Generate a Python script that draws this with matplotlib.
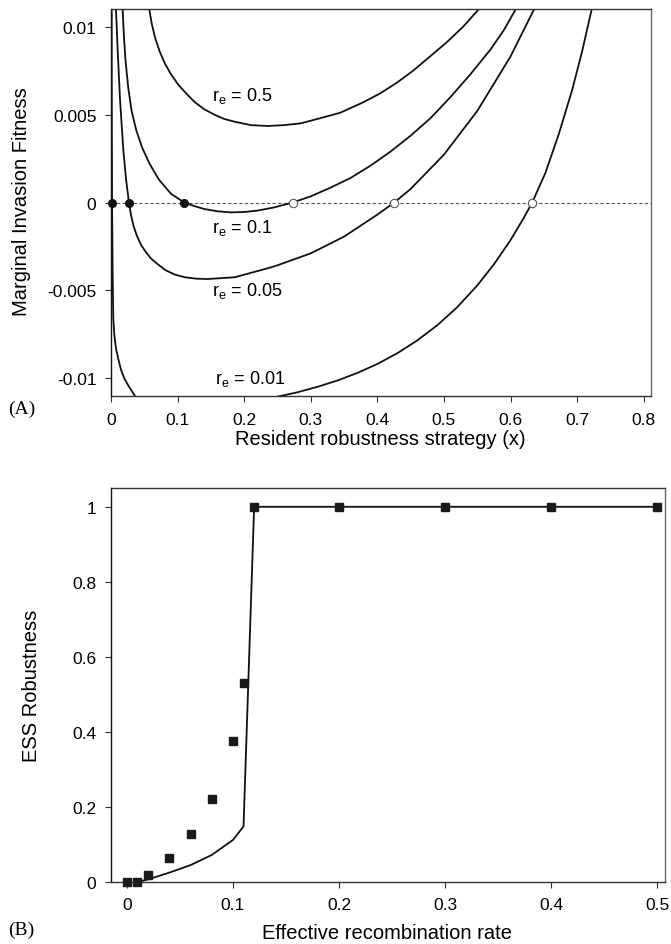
import matplotlib
matplotlib.use("Agg")
import matplotlib.pyplot as plt

plt.rcParams['font.family'] = ['Liberation Sans', 'DejaVu Sans']
plt.rcParams['mathtext.fontset'] = 'custom'
plt.rcParams['mathtext.rm'] = 'Liberation Sans'

# ---- panel A: marginal invasion fitness curves ----
x_r001_left = [0.0010, 0.0012, 0.0016, 0.0025, 0.0035, 0.005, 0.0075, 0.011, 0.015, 0.020, 0.026, 0.036]
y_r001_left = [0.0110, 0.0050, 0.0, -0.0040, -0.0066, -0.0075, -0.0083, -0.0089, -0.0095, -0.0100,
               -0.0104, -0.0110]
x_r001_right = [0.251, 0.28, 0.31, 0.34, 0.37, 0.40, 0.43, 0.46, 0.49, 0.52, 0.55, 0.575,
                0.60, 0.62, 0.6326, 0.6526, 0.6726, 0.6926, 0.7076, 0.722]
y_r001_right = [-0.01103, -0.01079, -0.01048, -0.01012, -0.00969, -0.00918, -0.00857, -0.00784,
                -0.00698, -0.00595, -0.00472, -0.00352, -0.00214, -0.00087, 0.0, 0.0017, 0.0039,
                0.0064, 0.0086, 0.0110]

x_r005 = [0.0075, 0.010, 0.0135, 0.0185, 0.0227, 0.027, 0.030, 0.034, 0.039, 0.045, 0.052, 0.06,
          0.07, 0.082, 0.096, 0.111, 0.128, 0.145, 0.186, 0.239, 0.25, 0.30, 0.35, 0.40, 0.4254,
          0.45, 0.50, 0.55, 0.60, 0.6356]
y_r005 = [0.0110, 0.0087, 0.0059, 0.0030, 0.0013, 0.0, -0.0007, -0.00135, -0.0019, -0.0024,
          -0.0028, -0.00318, -0.0035, -0.00385, -0.0041, -0.00425, -0.00433, -0.00435, -0.00425,
          -0.00370, -0.00357, -0.00289, -0.00194, -0.00069, 0.0, 0.00077, 0.00272, 0.0052,
          0.0083, 0.0110]

x_r01 = [0.0175, 0.0195, 0.022, 0.026, 0.031, 0.038, 0.047, 0.058, 0.072, 0.09, 0.11, 0.125,
         0.14, 0.16, 0.18, 0.20, 0.22, 0.245, 0.2728, 0.30, 0.33, 0.36, 0.39, 0.42, 0.45, 0.48,
         0.51, 0.54, 0.57, 0.59, 0.608]
y_r01 = [0.0110, 0.0094, 0.0080, 0.0065, 0.0052, 0.0041, 0.0031, 0.0022, 0.0013, 0.0005, 0.0,
         -0.0002, -0.00037, -0.0005, -0.00056, -0.00054, -0.00046, -0.00028, 0.0, 0.00035,
         0.00085, 0.0014, 0.0021, 0.0029, 0.0038, 0.0048, 0.0060, 0.0073, 0.0087, 0.0098, 0.0110]

x_r05 = [0.0575, 0.061, 0.066, 0.073, 0.081, 0.09, 0.101, 0.113, 0.126, 0.14, 0.155, 0.17, 0.185,
         0.21, 0.235, 0.26, 0.285, 0.315, 0.344, 0.379, 0.404, 0.429, 0.454, 0.479, 0.504, 0.529,
         0.5526]
y_r05 = [0.0110, 0.0102, 0.0094, 0.0086, 0.0079, 0.0073, 0.0067, 0.0062, 0.0057, 0.0053, 0.0050,
         0.00475, 0.0046, 0.0044, 0.00435, 0.0044, 0.0045, 0.0048, 0.0051, 0.0057, 0.0062, 0.0068,
         0.0075, 0.0083, 0.0091, 0.0100, 0.0110]

stable_x = [0.0015, 0.0275, 0.11]      # filled dots
unstable_x = [0.2728, 0.4254, 0.6326]  # open dots

curve_labels = [r'r$_\mathrm{e}$ = 0.5', r'r$_\mathrm{e}$ = 0.1', r'r$_\mathrm{e}$ = 0.05', r'r$_\mathrm{e}$ = 0.01']
label_x = [0.151, 0.151, 0.151, 0.156]
label_y = [0.0061, -0.0014, -0.0050, -0.0100]

xticks_a = [0, 0.1, 0.2, 0.3, 0.4, 0.5, 0.6, 0.7, 0.8]
xticklabels_a = ['0', '0.1', '0.2', '0.3', '0.4', '0.5', '0.6', '0.7', '0.8']
yticks_a = [0.01, 0.005, 0, -0.005, -0.01]
yticklabels_a = ['0.01', '0.005', '0', '-0.005', '-0.01']

# ---- panel B: ESS robustness vs recombination ----
sim_r = [0, 0.01, 0.02, 0.04, 0.06, 0.08, 0.1, 0.11, 0.12, 0.2, 0.3, 0.4, 0.5]
sim_ess = [0, 0, 0.02, 0.064, 0.128, 0.221, 0.376, 0.53, 1, 1, 1, 1, 1]
theory_r = [0.01, 0.02, 0.04, 0.06, 0.08, 0.1, 0.11, 0.12, 0.2, 0.3, 0.4, 0.5]
theory_ess = [0, 0.007, 0.025, 0.045, 0.072, 0.112, 0.148, 1, 1, 1, 1, 1]

xticks_b = [0, 0.1, 0.2, 0.3, 0.4, 0.5]
xticklabels_b = ['0', '0.1', '0.2', '0.3', '0.4', '0.5']
yticks_b = [0, 0.2, 0.4, 0.6, 0.8, 1]
yticklabels_b = ['0', '0.2', '0.4', '0.6', '0.8', '1']

fig = plt.figure(figsize=(6.71, 9.45), dpi=100)
axA = fig.add_axes([0.1654, 0.5799, 0.8048, 0.4095])
axB = fig.add_axes([0.1654, 0.0656, 0.8257, 0.4169])

lw = 1.3
axA.axhline(0, color='#555555', lw=0.8, ls=(0, (3, 2)), zorder=1)
for xs, ys in [(x_r001_left, y_r001_left), (x_r001_right, y_r001_right),
               (x_r005, y_r005), (x_r01, y_r01), (x_r05, y_r05)]:
    axA.plot(xs, ys, color='#111111', lw=lw, zorder=2)
axA.plot(stable_x, [0] * len(stable_x), 'o', ms=5.5, color='#111111', zorder=3, clip_on=False)
axA.plot(unstable_x, [0] * len(unstable_x), 'o', ms=6, mfc='white', mec='#555555', mew=0.8, zorder=3)
for t, lx, ly in zip(curve_labels, label_x, label_y):
    axA.text(lx, ly, t, fontsize=13, va='center', ha='left')

axA.set_xlim(0, 0.811)
axA.set_ylim(-0.011, 0.011)
axA.set_xticks(xticks_a, xticklabels_a)
axA.set_yticks(yticks_a, yticklabels_a)
axA.set_xlabel('Resident robustness strategy (x)', fontsize=14.5)
axA.set_ylabel('Marginal Invasion Fitness', fontsize=14.5)
axA.xaxis.set_label_coords(0.498, -0.086)
axA.yaxis.set_label_coords(-0.148, 0.505)

axB.plot(theory_r, theory_ess, color='#111111', lw=lw, zorder=2)
axB.plot(sim_r, sim_ess, 's', ms=6.2, color='#1a1a1a', zorder=3, clip_on=False)
axB.set_xlim(-0.015, 0.5075)
axB.set_ylim(0, 1.05)
axB.set_xticks(xticks_b, xticklabels_b)
axB.set_yticks(yticks_b, yticklabels_b)
axB.set_xlabel('Effective recombination rate', fontsize=14.5)
axB.set_ylabel('ESS Robustness', fontsize=14.5)
axB.xaxis.set_label_coords(0.498, -0.104)
axB.yaxis.set_label_coords(-0.126, 0.5)

for ax in (axA, axB):
    for s in ax.spines.values():
        s.set_color('#333333')
        s.set_linewidth(1.0)
    ax.spines['left'].set_color('#111111')
    ax.spines['right'].set_color('#666666')
    ax.tick_params(direction='out', length=4.5, width=0.8, labelsize=12.5, color='#333333', pad=6)
axA.tick_params(axis='x', pad=7)

fig.text(0.012, 0.567, '(A)', fontsize=14, family='Liberation Serif', va='center', ha='left')
fig.text(0.012, 0.016, '(B)', fontsize=14, family='Liberation Serif', va='center', ha='left')

fig.savefig('out.png', dpi=100)
